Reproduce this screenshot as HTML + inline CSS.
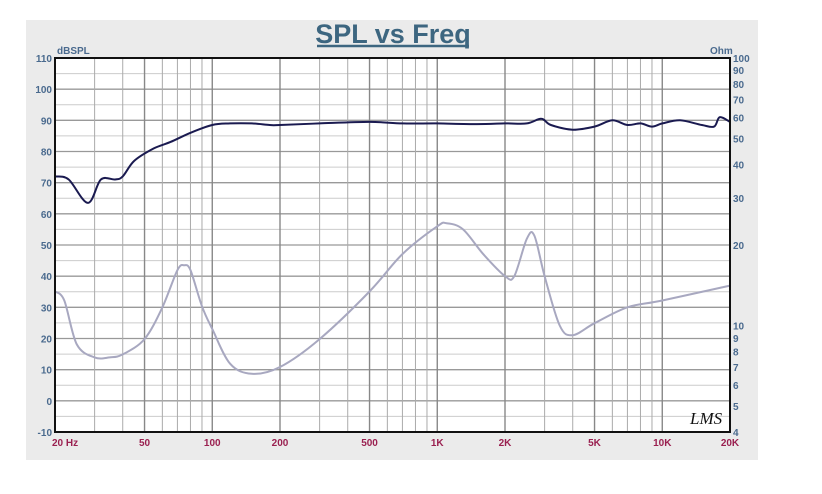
<!DOCTYPE html>
<html><head><meta charset="utf-8"><style>
body{margin:0;background:#fff;width:822px;height:494px;overflow:hidden;font-family:"Liberation Sans",sans-serif}
</style></head><body>
<svg id="c" width="822" height="494" style="position:absolute;left:0;top:0">
<rect x="26" y="20" width="732" height="440" fill="#ebebeb"/>
<text x="393" y="43" text-anchor="middle" font-size="27" font-weight="bold" fill="#3d6680">SPL vs Freq</text>
<line x1="317" y1="46" x2="469" y2="46" stroke="#3d6680" stroke-width="2.5"/>
<rect x="55" y="58" width="675" height="374" fill="#fff"/>
<g id="grid"></g><g id="series"></g>
<rect x="55" y="58" width="675" height="374" fill="none" stroke="#111" stroke-width="2"/>
<text x="57" y="54" font-size="10" font-weight="bold" fill="#4a6a8e">dBSPL</text>
<text x="710" y="54" font-size="10" font-weight="bold" fill="#4a6a8e">Ohm</text>
<text x="690" y="424" font-size="17" font-style="italic" font-family="Liberation Serif,serif" fill="#111">LMS</text>
<g id="labels"></g>
</svg>
<script>
const freqTicks=[20,50,100,200,500,1000,2000,5000,10000,20000];
const freqTickLabels=["20  Hz","50","100","200","500","1K","2K","5K","10K","20K"];
const dbTicks=[110,100,90,80,70,60,50,40,30,20,10,0,-10];
const ohmTicks=[100,90,80,70,60,50,40,30,20,10,9,8,7,6,5,4];
const splFreq=[20,23,28,32,37,40,45,55,65,80,100,120,150,180,200,300,500,700,1000,1500,2000,2500,2900,3200,4000,5000,6000,7000,8000,9000,10000,12000,15000,17000,18000,20000];
const splDb=[72,71,63.5,71,71,72,77,81,83,86,88.5,89,89,88.5,88.5,89,89.5,89,89,88.8,89,89,90.5,88.5,87,88,90,88.5,89,88,89,90,88.5,88,91,89.5];
const impFreq=[20,22,25,30,35,40,50,60,70,75,80,90,100,120,150,200,300,500,700,1000,1100,1300,1600,2000,2200,2500,2700,3000,3500,4000,5000,7000,10000,20000];
const impOhm=[13.4,12.4,8.5,7.6,7.6,7.8,8.9,11.7,16.1,16.8,16.1,11.8,9.7,7.2,6.6,7.0,8.9,13.4,18.5,23.5,24.1,22.9,18.5,15.3,15.3,21.1,21.7,15.3,10.0,9.2,10.2,11.7,12.4,14.1];
const L=55,R=730,T=58,B=432,NS="http://www.w3.org/2000/svg";
const xs=f=>L+(Math.log10(f/20)/3)*(R-L);
const ys=v=>B-(v+10)/120*(B-T);
const yo=o=>B-Math.log10(o/4)/Math.log10(25)*(B-T);
function mk(t,a,p){const e=document.createElementNS(NS,t);for(const k in a)e.setAttribute(k,a[k]);p.appendChild(e);return e;}
const g=document.getElementById('grid'),s=document.getElementById('series'),lb=document.getElementById('labels');
for(let v=-5;v<110;v+=5){const l=mk('line',{x1:L,x2:R,y1:ys(v),y2:ys(v),stroke:v%10?'#ccc':'#999','stroke-width':v%10?1:1.3},g);

}
const majors=[50,100,200,500,1000,2000,5000,10000];
[10,100,1000,10000].forEach(d=>{for(let m=1;m<10;m++){const f=d*m;if(f<=20||f>=20000)continue;
const major=majors.includes(f);
const l=mk('line',{x1:xs(f),x2:xs(f),y1:T,y2:B,stroke:major?'#888':'#aaa','stroke-width':major?1.4:1},g);

}});
function path(fx,vy,fy,col,w,name){const P=fx.map((f,i)=>[xs(f),fy(vy[i])]);
let d='M'+P[0][0].toFixed(1)+','+P[0][1].toFixed(1);
for(let i=0;i<P.length-1;i++){const p0=P[i-1]||P[i],p1=P[i],p2=P[i+1],p3=P[i+2]||P[i+1];
const c1=[p1[0]+(p2[0]-p0[0])/6,p1[1]+(p2[1]-p0[1])/6],c2=[p2[0]-(p3[0]-p1[0])/6,p2[1]-(p3[1]-p1[1])/6];
d+='C'+c1[0].toFixed(1)+','+c1[1].toFixed(1)+' '+c2[0].toFixed(1)+','+c2[1].toFixed(1)+' '+p2[0].toFixed(1)+','+p2[1].toFixed(1);}
const p=mk('path',{d:d,fill:'none',stroke:col,'stroke-width':w,'stroke-linejoin':'round'},s);

}
path(impFreq,impOhm,yo,'#a8a8c0',2,'impedance-line');
path(splFreq,splDb,ys,'#1a1a50',2,'spl-line');
dbTicks.forEach(v=>{const t=mk('text',{x:L-3,y:ys(v)+4,'text-anchor':'end','font-size':10,'font-weight':'bold',fill:'#4a6a8e'},lb);t.textContent=v;

});
ohmTicks.forEach(o=>{const t=mk('text',{x:R+3,y:yo(o)+4,'font-size':10,'font-weight':'bold',fill:'#4a6a8e'},lb);t.textContent=o;

});
freqTicks.forEach((f,i)=>{const t=mk('text',{x:i===0?L-3:xs(f),y:B+14,'text-anchor':i===0?'start':'middle','font-size':10,'font-weight':'bold',fill:'#9a2050','xml:space':'preserve'},lb);t.textContent=freqTickLabels[i];

});
</script>
</body></html>
